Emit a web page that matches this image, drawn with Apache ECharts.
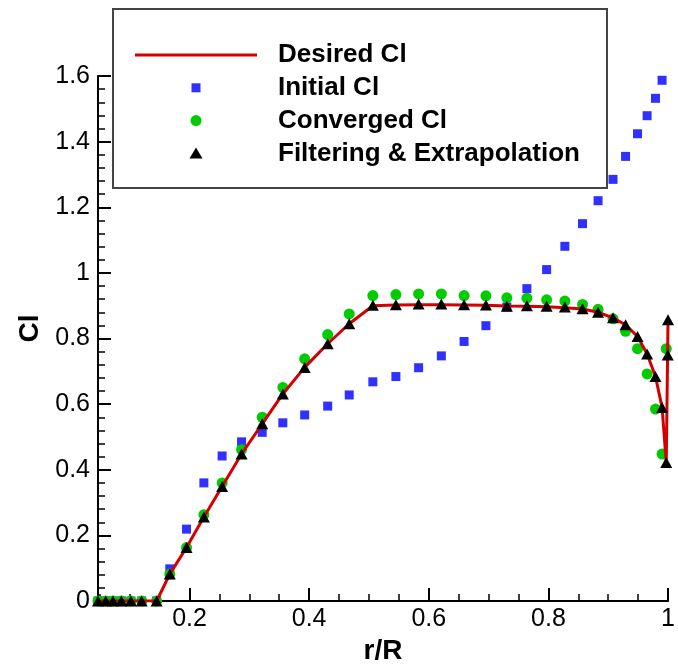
<!DOCTYPE html>
<html>
<head>
<meta charset="utf-8">
<script src="https://cdn.jsdelivr.net/npm/echarts@6/dist/echarts.min.js"></script>
<style>
  html, body { margin: 0; padding: 0; background: #fff; }
  #chart { width: 678px; height: 670px; }
</style>
</head>
<body>
<div id="chart"></div>
<script>
// Radial stations r/R (the last three sit at the blade tip)
const rStations = [0.047, 0.060, 0.072, 0.086, 0.102, 0.120, 0.145,
  0.167, 0.195, 0.224, 0.2545, 0.287, 0.3215, 0.356, 0.3925, 0.431, 0.467,
  0.5065, 0.545, 0.583, 0.621, 0.659, 0.6955, 0.7305, 0.764, 0.797, 0.8275,
  0.857, 0.883, 0.908, 0.929, 0.949, 0.965, 0.979, 0.990,
  0.997, 0.9995, 1.0];

// Desired lift distribution (line through every station except 0.9995)
const desiredR = rStations.filter(r => r !== 0.9995);
const desiredCl = [0, 0, 0, 0, 0, 0, 0,
  0.082, 0.163, 0.256, 0.349, 0.448, 0.540, 0.631, 0.712, 0.784, 0.845,
  0.900, 0.902, 0.903, 0.903, 0.902, 0.901, 0.899, 0.898, 0.897, 0.894,
  0.890, 0.880, 0.863, 0.842, 0.806, 0.753, 0.684, 0.590,
  0.422, 0.860];

// Initial guess
const initialCl = [0, 0, 0, 0, 0, 0, 0,
  0.098, 0.219, 0.360, 0.442, 0.485, 0.514, 0.543, 0.567, 0.594, 0.628,
  0.668, 0.684, 0.711, 0.747, 0.791, 0.839, 0.896, 0.952, 1.010, 1.081,
  1.150, 1.220, 1.285, 1.355, 1.424, 1.479, 1.532, 1.587];

// Converged result
const convergedCl = [0, 0, 0, 0, 0, 0, 0,
  0.082, 0.163, 0.263, 0.360, 0.461, 0.560, 0.651, 0.738, 0.812, 0.875,
  0.931, 0.934, 0.936, 0.936, 0.931, 0.930, 0.924, 0.923, 0.918, 0.914,
  0.904, 0.889, 0.860, 0.822, 0.769, 0.692, 0.585, 0.448,
  0.769];

// After filtering and tip extrapolation
const filteredCl = [0, 0, 0, 0, 0, 0, 0,
  0.082, 0.163, 0.256, 0.349, 0.448, 0.540, 0.631, 0.712, 0.784, 0.845,
  0.901, 0.903, 0.905, 0.905, 0.903, 0.902, 0.898, 0.900, 0.898, 0.896,
  0.891, 0.880, 0.863, 0.842, 0.806, 0.753, 0.684, 0.590,
  0.422, 0.750, 0.857];

// Axis ticks
const xMajorTicks = [0.2, 0.4, 0.6, 0.8, 1];
const xMinorTicks = [0.05, 0.1, 0.15, 0.25, 0.3, 0.35, 0.45, 0.5, 0.55,
  0.65, 0.7, 0.75, 0.85, 0.9, 0.95];

// Legend entries
const legendNames = ['Desired Cl', 'Initial Cl', 'Converged Cl', 'Filtering & Extrapolation'];

const pairs = (rs, vals) => vals.map((v, i) => [rs[i], v]);
const FONT = "'Liberation Sans', Arial, Helvetica, sans-serif";
const RED = '#d40000', BLUE = '#3030ff', GREEN = '#00cc00', BLACK = '#000';

const chart = echarts.init(document.getElementById('chart'), null, { renderer: 'canvas' });

const baseX = {
  type: 'value',
  min: 0.047,
  max: 1.0,
  position: 'bottom',
  splitLine: { show: false }
};

// Boxed legend in the upper part of the plot
const LX = 135, LW = 122, TX = 278, ROW0 = 55, ROWH = 32.8;
const iconX = LX + LW / 2;
const rowY = i => ROW0 + i * ROWH;
const legendGraphic = [
  { type: 'rect', z: 10, shape: { x: 113, y: 9, width: 494, height: 179 },
    style: { fill: '#fff', stroke: '#444', lineWidth: 2 } },
  { type: 'line', z: 11, shape: { x1: LX, y1: rowY(0), x2: LX + LW, y2: rowY(0) },
    style: { stroke: RED, lineWidth: 3 } },
  { type: 'rect', z: 11, shape: { x: iconX - 4.5, y: rowY(1) - 4.5, width: 9, height: 9 },
    style: { fill: BLUE } },
  { type: 'circle', z: 11, shape: { cx: iconX, cy: rowY(2), r: 5.5 },
    style: { fill: GREEN } },
  { type: 'polygon', z: 11,
    shape: { points: [[iconX, rowY(3) - 6], [iconX + 6.5, rowY(3) + 5], [iconX - 6.5, rowY(3) + 5]] },
    style: { fill: BLACK } }
].concat(legendNames.map((name, i) => ({
  type: 'text', z: 11, x: TX, y: rowY(i),
  style: { text: name, fill: BLACK, font: "bold 26px " + FONT,
    textAlign: 'left', textVerticalAlign: 'middle' }
})));

chart.setOption({
  animation: false,
  backgroundColor: '#fff',
  grid: { left: 98, right: 7, top: 76, bottom: 69, containLabel: false },
  xAxis: [
    Object.assign({}, baseX, {
      name: 'r/R',
      nameLocation: 'middle',
      nameGap: 36,
      nameTextStyle: { fontFamily: FONT, fontSize: 28, fontWeight: 'bold', color: BLACK },
      axisLine: { show: true, lineStyle: { color: BLACK, width: 2 } },
      axisTick: { show: true, inside: true, length: 13, customValues: xMajorTicks,
        lineStyle: { color: BLACK, width: 2 } },
      axisLabel: { show: true, customValues: xMajorTicks, margin: 6,
        fontFamily: FONT, fontSize: 25, color: BLACK }
    }),
    Object.assign({}, baseX, {
      axisLine: { show: false },
      axisTick: { show: true, inside: true, length: 7, customValues: xMinorTicks,
        lineStyle: { color: BLACK, width: 1.5 } },
      axisLabel: { show: false }
    })
  ],
  yAxis: {
    type: 'value',
    min: 0,
    max: 1.6,
    interval: 0.2,
    name: 'Cl',
    nameLocation: 'middle',
    nameGap: 50,
    nameRotate: 90,
    nameTextStyle: { fontFamily: FONT, fontSize: 28, fontWeight: 'bold', color: BLACK,
      padding: [0, 0, 0, 20] },
    axisLine: { show: true, lineStyle: { color: BLACK, width: 2 } },
    axisTick: { show: true, inside: true, length: 13, lineStyle: { color: BLACK, width: 2 } },
    minorTick: { show: true, splitNumber: 5, length: 7, lineStyle: { color: BLACK, width: 1.5 } },
    splitLine: { show: false },
    minorSplitLine: { show: false },
    axisLabel: { margin: 8, fontFamily: FONT, fontSize: 25, color: BLACK }
  },
  graphic: legendGraphic,
  series: [
    {
      name: legendNames[0],
      type: 'line',
      data: pairs(desiredR, desiredCl),
      symbol: 'none',
      lineStyle: { color: RED, width: 3 },
      itemStyle: { color: RED },
      z: 3
    },
    {
      name: legendNames[1],
      type: 'scatter',
      data: pairs(rStations, initialCl),
      symbol: 'rect',
      symbolSize: 9,
      itemStyle: { color: BLUE, opacity: 1 },
      z: 1
    },
    {
      name: legendNames[2],
      type: 'scatter',
      data: pairs(rStations, convergedCl),
      symbol: 'circle',
      symbolSize: 11,
      itemStyle: { color: GREEN, opacity: 1 },
      z: 2
    },
    {
      name: legendNames[3],
      type: 'scatter',
      data: pairs(rStations, filteredCl),
      symbol: 'triangle',
      symbolSize: [12, 11],
      itemStyle: { color: BLACK, opacity: 1 },
      z: 4
    }
  ]
});
</script>
</body>
</html>
